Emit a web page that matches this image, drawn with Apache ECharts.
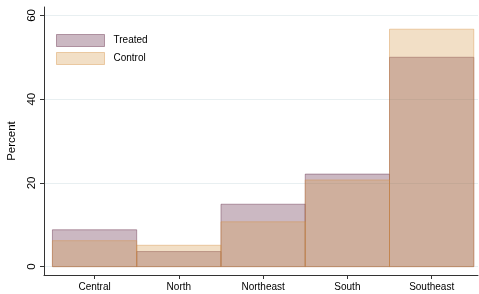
<!DOCTYPE html>
<html><head><meta charset="utf-8">
<script src="https://cdn.jsdelivr.net/npm/echarts@6/dist/echarts.min.js"></script>
<style>html,body{margin:0;padding:0;background:#fff}#c{width:479px;height:294px}</style>
</head><body><div id="c"></div>
<script>
const categories = ['Central', 'North', 'Northeast', 'South', 'Southeast'];
const treated = [8.8, 3.6, 14.9, 22.1, 50.0];
const control = [6.2, 5.1, 10.7, 20.7, 56.7];
const yTicks = [0, 20, 40, 60];
const xPositions = [1, 2, 3, 4, 5];

const treatedFill = 'rgba(97,40,70,0.33)';
const treatedLine = 'rgba(97,40,70,0.42)';
const controlFill = 'rgba(215,157,81,0.33)';
const controlLine = 'rgba(215,145,70,0.42)';
const font = 'Liberation Sans, Arial, sans-serif';

function makeRender(fill, line) {
  return function (params, api) {
    const x = api.value(0), v = api.value(1);
    const p0 = api.coord([x - 0.5, 0]);
    const p1 = api.coord([x + 0.5, v]);
    return {
      type: 'rect',
      shape: { x: p0[0], y: p1[1], width: p1[0] - p0[0], height: p0[1] - p1[1] },
      style: { fill: fill, stroke: line, lineWidth: 1 }
    };
  };
}

const chart = echarts.init(document.getElementById('c'), null, { renderer: 'canvas' });
chart.setOption({
  animation: false,
  backgroundColor: '#fff',
  grid: { left: 44, right: 1, top: 7, bottom: 19, containLabel: false, outerBoundsMode: 'none' },
  legend: {
    left: 51, top: 29, orient: 'vertical',
    itemWidth: 48, itemHeight: 12, itemGap: 5,
    icon: 'rect',
    textStyle: { fontFamily: font, fontSize: 10, color: '#000', padding: [0, 0, 0, 4] },
    data: [
      { name: 'Treated', itemStyle: { color: treatedFill, borderColor: treatedLine, borderWidth: 1 } },
      { name: 'Control', itemStyle: { color: controlFill, borderColor: controlLine, borderWidth: 1 } }
    ]
  },
  xAxis: {
    type: 'value', min: 0.4, max: 5.55,
    axisLine: { show: true, onZero: false, lineStyle: { color: '#333', width: 1 } },
    axisTick: { show: true, length: 4, lineStyle: { color: '#333' }, customValues: xPositions },
    axisLabel: {
      customValues: xPositions, margin: 7,
      formatter: v => categories[Math.round(v) - 1] || '',
      fontFamily: font, fontSize: 10, color: '#000'
    },
    splitLine: { show: false }
  },
  yAxis: {
    type: 'value', min: -2, max: 62,
    name: 'Percent', nameLocation: 'middle', nameGap: 24, nameRotate: 90,
    nameTextStyle: { fontFamily: font, fontSize: 11.5, color: '#000' },
    axisLine: { show: true, onZero: false, lineStyle: { color: '#333', width: 1 } },
    axisTick: { show: true, length: 4, lineStyle: { color: '#333' }, customValues: yTicks },
    axisLabel: {
      customValues: yTicks, rotate: 90, margin: 6,
      fontFamily: font, fontSize: 11.5, color: '#000'
    },
    splitLine: { show: true, lineStyle: { color: '#e8eff1', width: 1 } }
  },
  series: [
    {
      name: 'Treated', type: 'custom',
      itemStyle: { color: treatedFill, borderColor: treatedLine },
      renderItem: makeRender(treatedFill, treatedLine),
      data: xPositions.map((x, i) => [x, treated[i]])
    },
    {
      name: 'Control', type: 'custom',
      itemStyle: { color: controlFill, borderColor: controlLine },
      renderItem: makeRender(controlFill, controlLine),
      data: xPositions.map((x, i) => [x, control[i]])
    }
  ]
});
</script></body></html>
